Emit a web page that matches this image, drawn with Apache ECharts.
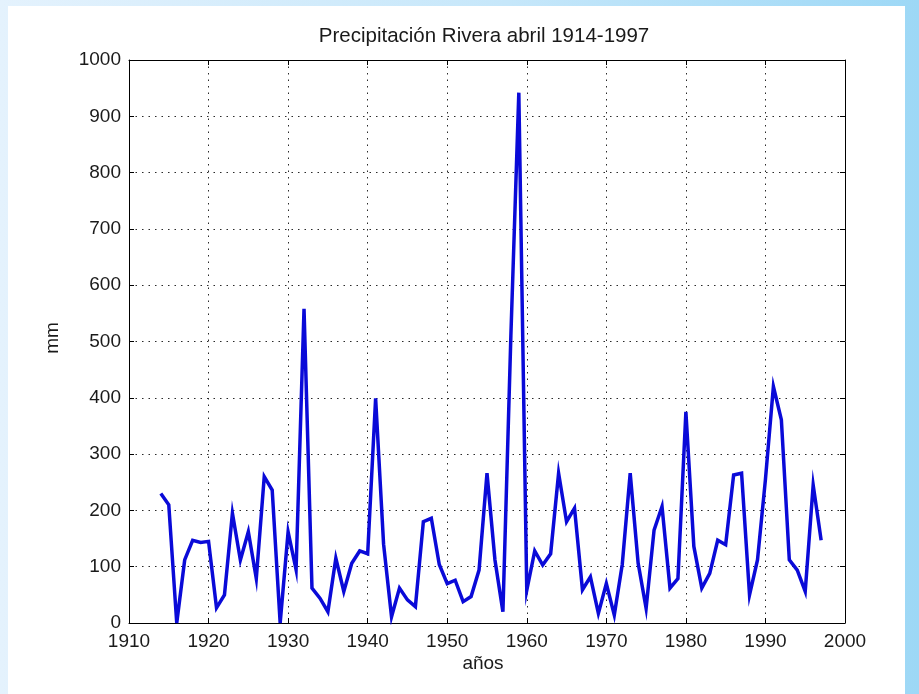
<!DOCTYPE html>
<html><head><meta charset="utf-8">
<script src="https://cdn.jsdelivr.net/npm/echarts@6/dist/echarts.min.js"></script>
<style>
html,body{margin:0;padding:0;width:919px;height:694px;overflow:hidden;background:linear-gradient(to right,#e4f2fd,#c6e7fa 55%,#9dd8f6);}
#paper{position:absolute;left:8px;top:6px;width:897px;height:688px;background:#fff;}
#chart{position:absolute;left:0;top:0;width:919px;height:694px;}
</style></head><body><div id="paper"></div><div id="chart"></div>
<script>
const titleText = 'Precipitación Rivera abril 1914-1997';
const xName = 'años';
const yName = 'mm';
const years = [1914,1915,1916,1917,1918,1919,1920,1921,1922,1923,1924,1925,1926,1927,1928,1929,
  1930,1931,1932,1933,1934,1935,1936,1937,1938,1939,1940,1941,1942,1943,1944,1945,1946,1947,1948,1949,
  1950,1951,1952,1953,1954,1955,1956,1957,1958,1959,1960,1961,1962,1963,1964,1965,1966,1967,1968,1969,
  1970,1971,1972,1973,1974,1975,1976,1977,1978,1979,1980,1981,1982,1983,1984,1985,1986,1987,1988,1989,
  1990,1991,1992,1993,1994,1995,1996,1997];
const precip = [230,210,0,112,147,143,145,27,50,195,112,162,79,260,236,0,
  162,95,558,62,44,20,115,56,106,128,123,399,140,11,62,41,29,180,186,104,
  70,76,38,47,94,266,112,20,510,942,58,128,103,123,266,180,204,59,82,17,
  70,14,104,266,106,26,165,207,62,79,375,136,62,88,147,139,263,266,50,112,
  255,420,361,112,94,56,245,147];
const xTicks = [1910,1920,1930,1940,1950,1960,1970,1980,1990,2000];
const yTicks = [0,100,200,300,400,500,600,700,800,900,1000];

const FONT = '"Liberation Sans", Arial, sans-serif';
const chart = echarts.init(document.getElementById('chart'), null, {renderer:'canvas'});
const gridStyle = {show:true, lineStyle:{type:[1.5,5], color:'#2a2a2a', width:1}};
const lineAx = {show:true, onZero:false, lineStyle:{color:'#000', width:1}};
const tickAx = {show:true, inside:true, length:5, lineStyle:{color:'#000', width:1}};
const lbl = {color:'#1a1a1a', fontSize:19, fontFamily:FONT, formatter:v=>String(v)};
const xMin = xTicks[0], xMax = xTicks[xTicks.length-1], xInt = xTicks[1]-xTicks[0];
const yMin = yTicks[0], yMax = yTicks[yTicks.length-1], yInt = yTicks[1]-yTicks[0];

chart.setOption({
  animation:false,
  backgroundColor:'transparent',
  grid:{left:129, right:74, top:60, bottom:71, containLabel:false},
  xAxis:[
    {type:'value', min:xMin, max:xMax, interval:xInt, position:'bottom',
     axisLine:lineAx, axisTick:tickAx, splitLine:gridStyle,
     axisLabel:Object.assign({margin:9}, lbl)},
    {type:'value', min:xMin, max:xMax, interval:xInt, position:'top',
     axisLine:lineAx, axisTick:tickAx, splitLine:{show:false}, axisLabel:{show:false}}
  ],
  yAxis:[
    {type:'value', min:yMin, max:yMax, interval:yInt, position:'left',
     axisLine:lineAx, axisTick:tickAx, splitLine:gridStyle,
     axisLabel:Object.assign({margin:8}, lbl)},
    {type:'value', min:yMin, max:yMax, interval:yInt, position:'right',
     axisLine:lineAx, axisTick:tickAx, splitLine:{show:false}, axisLabel:{show:false}}
  ],
  graphic:[
    {type:'text', x:484, y:36, style:{text:titleText, textAlign:'center', textVerticalAlign:'middle', font:'20.5px '+FONT, fill:'#1a1a1a'}},
    {type:'text', x:483, y:664, style:{text:xName, textAlign:'center', textVerticalAlign:'middle', font:'19px '+FONT, fill:'#1a1a1a'}},
    {type:'text', x:53, y:338, rotation:Math.PI/2, style:{text:yName, textAlign:'center', textVerticalAlign:'middle', font:'19px '+FONT, fill:'#1a1a1a'}}
  ],
  series:[{
    type:'line', xAxisIndex:0, yAxisIndex:0, symbol:'none', showSymbol:false,
    data: years.map((y,i)=>[y, precip[i]]),
    lineStyle:{color:'#0a0ad8', width:3.5, join:'miter'}, z:5
  }]
});
</script></body></html>
